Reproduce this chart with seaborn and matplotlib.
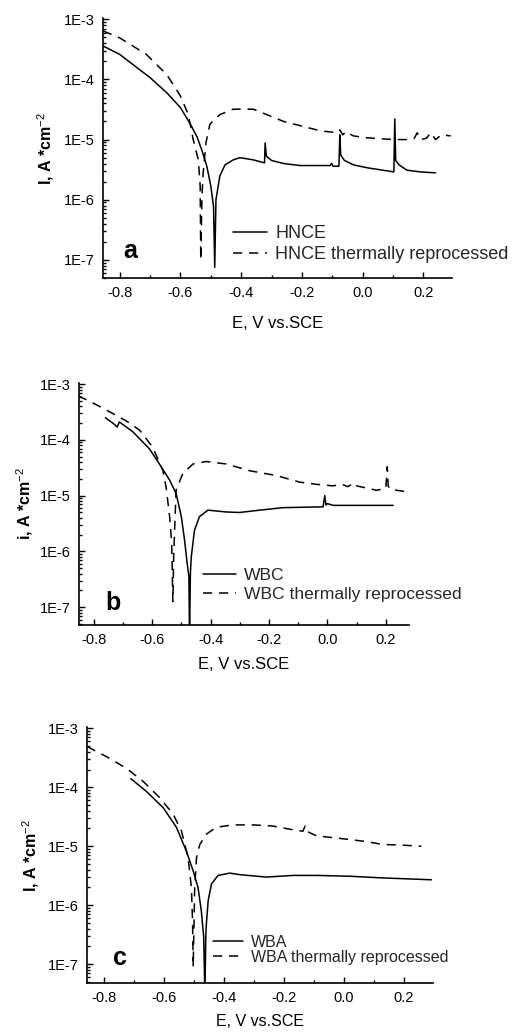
import numpy as np
import pandas as pd
import matplotlib
matplotlib.use("Agg")
import matplotlib.pyplot as plt
import seaborn as sns
from matplotlib.ticker import FixedLocator, FuncFormatter, LogLocator, MultipleLocator
from matplotlib.lines import Line2D

# ---------------- data ----------------
a_solid_E = [-0.855, -0.80, -0.70, -0.645, -0.60, -0.567, -0.545, -0.53, -0.513, -0.50, -0.491, -0.487, -0.483,
             -0.47, -0.453, -0.426, -0.404, -0.36, -0.323, -0.321, -0.317, -0.30, -0.26, -0.205, -0.107, -0.102,
             -0.097, -0.078, -0.075, -0.072, -0.06, -0.03, 0.015, 0.103, 0.106, 0.109, 0.12, 0.146, 0.19, 0.24]
a_solid_I = [3.6e-4, 2.6e-4, 1.07e-4, 6e-5, 3.4e-5, 1.8e-5, 1.1e-5, 6.8e-6, 3.6e-6, 1.7e-6, 7.7e-7, 7.5e-8, 1.0e-6,
             2.5e-6, 3.8e-6, 4.6e-6, 5e-6, 4.6e-6, 4.1e-6, 8.8e-6, 5.3e-6, 4.5e-6, 4.0e-6, 3.7e-6, 3.7e-6, 4.0e-6,
             3.6e-6, 3.6e-6, 1.2e-5, 5.5e-6, 4.5e-6, 3.8e-6, 3.4e-6, 2.9e-6, 2.2e-5, 4.5e-6, 3.8e-6, 3.1e-6, 2.9e-6, 2.8e-6]
a_dash_E = [-0.855, -0.80, -0.712, -0.645, -0.60, -0.574, -0.558, -0.541, -0.535, -0.533, -0.529, -0.525, -0.516,
            -0.503, -0.47, -0.426, -0.36, -0.316, -0.26, -0.205, -0.14, -0.084, -0.075, -0.065, -0.055, -0.03, 0.015,
            0.103, 0.146, 0.17, 0.18, 0.19, 0.21, 0.225, 0.24, 0.26, 0.29]
a_dash_I = [6.4e-4, 4.9e-4, 2.6e-4, 1.2e-4, 5.3e-5, 2.6e-5, 1e-5, 4.6e-6, 1.7e-6, 1e-7, 1.2e-6, 2.8e-6, 8.8e-6,
            1.8e-5, 2.6e-5, 3.2e-5, 3.2e-5, 2.6e-5, 2e-5, 1.7e-5, 1.4e-5, 1.3e-5, 1.45e-5, 1.2e-5, 1.35e-5, 1.15e-5,
            1.07e-5, 1e-5, 1e-5, 1.05e-5, 1.3e-5, 1e-5, 1.05e-5, 1.3e-5, 1.0e-5, 1.2e-5, 1.15e-5]

b_solid_E = [-0.76, -0.729, -0.72, -0.712, -0.666, -0.609, -0.575, -0.54, -0.518, -0.50, -0.489, -0.48, -0.474,
             -0.472, -0.469, -0.466, -0.455, -0.438, -0.409, -0.346, -0.30, -0.232, -0.152, -0.015, -0.009, -0.005,
             0.0, 0.02, 0.134, 0.225]
b_solid_I = [2.5e-4, 1.9e-4, 1.7e-4, 2.1e-4, 1.4e-4, 6.9e-5, 3.7e-5, 1.9e-5, 1.1e-5, 4.2e-6, 1.6e-6, 6.1e-7, 3.5e-7,
             3e-8, 4e-7, 8e-7, 2.4e-6, 4.2e-6, 5.5e-6, 5.1e-6, 5e-6, 5.5e-6, 6.1e-6, 6.3e-6, 1e-5, 6.8e-6,
             7.2e-6, 6.7e-6, 6.7e-6, 6.7e-6]
b_dash_E = [-0.853, -0.792, -0.746, -0.689, -0.643, -0.598, -0.563, -0.552, -0.54, -0.533, -0.529, -0.526, -0.523,
            -0.518, -0.495, -0.46, -0.415, -0.346, -0.266, -0.175, -0.095, -0.038, 0.019, 0.05, 0.07, 0.09, 0.10,
            0.168, 0.20, 0.205, 0.208, 0.215, 0.26, 0.275]
b_dash_I = [6.2e-4, 4.3e-4, 3.2e-4, 2.2e-4, 1.5e-4, 7.4e-5, 2.8e-5, 1.4e-5, 4.2e-6, 1.4e-6, 1.26e-7, 9e-7, 2.4e-6,
            1.25e-5, 2.5e-5, 3.7e-5, 4.1e-5, 3.7e-5, 2.8e-5, 2.3e-5, 1.75e-5, 1.6e-5, 1.5e-5, 1.6e-5, 1.45e-5, 1.7e-5,
            1.5e-5, 1.25e-5, 1.35e-5, 3.3e-5, 1.5e-5, 1.3e-5, 1.2e-5, 1.2e-5]

c_solid_E = [-0.711, -0.659, -0.603, -0.559, -0.526, -0.503, -0.487, -0.476, -0.468, -0.464, -0.461, -0.459, -0.453,
             -0.442, -0.42, -0.381, -0.348, -0.259, -0.17, -0.092, 0.019, 0.13, 0.291]
c_solid_I = [1.4e-4, 8.5e-5, 4.5e-5, 2.1e-5, 8.3e-6, 3.8e-6, 2e-6, 8.1e-7, 2.9e-7, 3e-8, 3e-7, 4.9e-7, 1.2e-6,
             2.3e-6, 3.2e-6, 3.5e-6, 3.3e-6, 3e-6, 3.2e-6, 3.2e-6, 3.1e-6, 2.9e-6, 2.7e-6]
c_dash_E = [-0.857, -0.792, -0.726, -0.67, -0.614, -0.57, -0.542, -0.52, -0.509, -0.505, -0.503, -0.50, -0.498,
            -0.492, -0.481, -0.459, -0.426, -0.37, -0.303, -0.237, -0.17, -0.137, -0.13, -0.125, -0.092, -0.037,
            0.019, 0.074, 0.13, 0.186, 0.258]
c_dash_I = [4.9e-4, 3.3e-4, 2.1e-4, 1.26e-4, 6.6e-5, 3.5e-5, 1.8e-5, 6.4e-6, 2e-6, 5e-7, 9e-8, 6e-7, 2e-6,
            6.4e-6, 1.07e-5, 1.6e-5, 2.1e-5, 2.3e-5, 2.3e-5, 2.2e-5, 1.9e-5, 1.8e-5, 2.2e-5, 1.8e-5, 1.5e-5, 1.4e-5,
            1.3e-5, 1.2e-5, 1.07e-5, 1.05e-5, 1e-5]

panel_letters = ["a", "b", "c"]
series_names = [["HNCE", "HNCE thermally reprocessed"],
                ["WBC", "WBC thermally reprocessed"],
                ["WBA", "WBA thermally reprocessed"]]
ylabels = [r"I, A *cm$^{-2}$", r"i, A *cm$^{-2}$", r"I, A *cm$^{-2}$"]
xlabel = "E, V vs.SCE"
y_ticks = [1e-7, 1e-6, 1e-5, 1e-4, 1e-3]
x_ticks = [-0.8, -0.6, -0.4, -0.2, 0.0, 0.2]

panels = [(a_solid_E, a_solid_I, a_dash_E, a_dash_I),
          (b_solid_E, b_solid_I, b_dash_E, b_dash_I),
          (c_solid_E, c_solid_I, c_dash_E, c_dash_I)]

# ---------------- style ----------------
sns.set_style("ticks")
plt.rcParams['font.family'] = ['Liberation Sans', 'DejaVu Sans']
plt.rcParams['mathtext.fontset'] = 'custom'
plt.rcParams['mathtext.rm'] = 'Liberation Sans'
plt.rcParams['mathtext.bf'] = 'Liberation Sans:bold'

fig = plt.figure(figsize=(5.15, 10.32), dpi=100)

# axes rectangles (left, bottom, width, height)
rects = [(0.200, 0.7306, 0.678, 0.252),
         (0.153, 0.3944, 0.641, 0.2345),
         (0.169, 0.0475, 0.672, 0.248)]
xlims = [(-0.855, 0.295), (-0.851, 0.279), (-0.857, 0.297)]
ylims = [(5e-8, 1.05e-3), (4.8e-8, 1.05e-3), (4.8e-8, 1.05e-3)]
legend_anchor = [(0.372, 0.13), (0.376, 0.165), (0.364, 0.129)]
legend_fs = [13, 12.6, 11.5]
legend_ls = [0.25, 0.2, 0.0]
letter_pos = [(0.057, 0.077), (0.079, 0.062), (0.075, 0.07)]
ylabel_x = [-0.135, -0.133, -0.133]
xlabel_pad = [11, 7, 6]
xlabel_fs = [12, 12, 11.5]

fmt = FuncFormatter(lambda v, p: "1E-%d" % round(-np.log10(v)))

for i, (sE, sI, dE, dI) in enumerate(panels):
    ax = fig.add_axes(rects[i])
    df = pd.concat([
        pd.DataFrame({"E": sE, "I": sI, "series": series_names[i][0]}),
        pd.DataFrame({"E": dE, "I": dI, "series": series_names[i][1]}),
    ], ignore_index=True)
    sns.lineplot(data=df, x="E", y="I", style="series",
                 style_order=series_names[i],
                 dashes={series_names[i][0]: "", series_names[i][1]: (6, 4.5)},
                 color="black", linewidth=1.1, estimator=None, sort=False,
                 legend=False, ax=ax)
    ax.set_yscale("log")
    ax.set_xlim(*xlims[i])
    ax.set_ylim(*ylims[i])
    sns.despine(ax=ax)
    for sp in ax.spines.values():
        sp.set_linewidth(1.2)
        sp.set_color("black")
    ax.yaxis.set_major_locator(FixedLocator(y_ticks))
    ax.yaxis.set_major_formatter(fmt)
    ax.yaxis.set_minor_locator(LogLocator(base=10, subs=np.arange(2, 10)))
    ax.yaxis.set_minor_formatter(FuncFormatter(lambda v, p: ""))
    ax.xaxis.set_major_locator(FixedLocator(x_ticks))
    ax.xaxis.set_major_formatter(FuncFormatter(lambda v, p: "%.1f" % v))
    ax.xaxis.set_minor_locator(MultipleLocator(0.1))
    ax.tick_params(which="both", direction="in", color="black", width=1.0)
    ax.tick_params(which="major", length=4, labelsize=10.5, pad=6, labelcolor="black")
    ax.tick_params(which="minor", length=2)
    ax.set_xlabel(xlabel, fontsize=xlabel_fs[i], labelpad=xlabel_pad[i], color="black")
    ax.set_ylabel(ylabels[i], fontsize=11.5, fontweight="bold", color="black")
    ax.yaxis.set_label_coords(ylabel_x[i], 0.5)
    ax.text(letter_pos[i][0], letter_pos[i][1], panel_letters[i], transform=ax.transAxes,
            fontsize=18, fontweight="bold", ha="left", va="baseline", color="black")
    handles = [Line2D([], [], color="black", lw=1.1),
               Line2D([], [], color="black", lw=1.1, dashes=(6, 4.5))]
    ax.legend(handles, series_names[i], loc="center left", bbox_to_anchor=legend_anchor[i],
              frameon=False, fontsize=legend_fs[i], handlelength=1.9, handletextpad=0.45,
              labelspacing=legend_ls[i], borderaxespad=0, borderpad=0)

fig.savefig("out.png", dpi=100, facecolor="white")
